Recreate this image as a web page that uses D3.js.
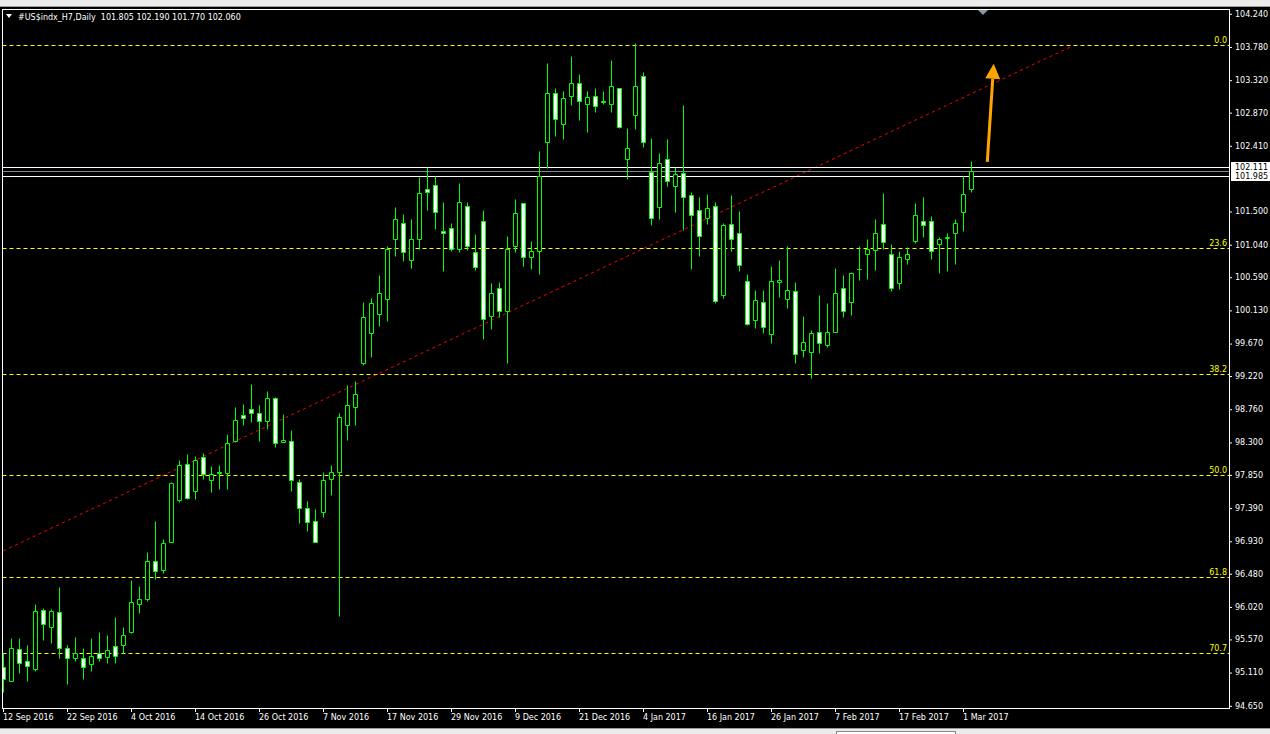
<!DOCTYPE html>
<html><head><meta charset="utf-8">
<script src="https://cdn.jsdelivr.net/npm/d3@7"></script>
<style>html,body{margin:0;padding:0;background:#000;overflow:hidden}</style>
</head><body>
<svg id="c" width="1270" height="734"></svg>
<script>
const symbolTitle = "#US$indx_H7,Daily  101.805 102.190 101.770 102.060";
const startDate = "2016-09-12";
const holidays = ["2016-12-26", "2017-01-02"];
const opens = [95.18,94.98,95.43,95.26,95.15,95.97,95.74,95.94,95.45,95.30,
95.30,95.22,95.37,95.32,95.47,95.48,95.66,96.05,96.12,96.65,
96.52,96.91,97.49,98.00,97.62,98.09,97.77,97.89,97.87,98.31,
98.67,98.75,98.70,98.59,98.91,98.30,98.31,97.75,97.39,97.20,
97.33,97.78,97.88,98.53,98.79,99.40,99.81,100.07,100.28,101.11,
101.33,100.82,101.11,101.81,101.86,101.22,101.26,100.98,101.57,100.93,
101.36,100.05,100.43,100.12,101.02,101.61,100.86,100.94,102.45,103.13,
102.70,103.09,103.27,102.98,103.10,103.03,102.98,103.20,102.22,102.83,
103.37,102.04,101.55,102.22,101.84,102.02,101.72,101.52,101.41,101.57,
100.33,101.32,101.20,100.53,99.99,100.24,99.79,100.52,100.28,100.39,
99.58,99.54,99.82,99.64,99.83,100.43,100.24,100.70,100.91,100.96,
101.32,100.90,100.50,100.84,101.09,101.36,101.36,101.04,101.13,101.20,
101.48,101.805];
const highs = [95.38,95.58,95.58,95.48,96.06,96.00,95.98,96.29,95.48,95.59,
95.44,95.58,95.66,95.62,95.88,95.73,96.39,96.31,96.78,97.21,
96.96,97.74,98.05,98.13,98.10,98.14,97.96,97.98,98.41,98.79,
98.83,99.10,98.81,99.00,98.92,98.69,98.47,97.79,97.48,97.37,
97.88,97.98,98.70,99.09,99.14,100.24,100.29,100.61,101.02,101.56,
101.46,101.39,101.97,102.11,101.99,101.63,101.33,101.89,101.62,101.18,
101.51,100.50,100.52,101.16,101.67,101.61,101.09,102.33,103.55,103.21,
103.16,103.65,103.40,103.16,103.21,103.16,103.59,103.21,102.65,103.83,
103.42,102.51,102.30,102.50,102.11,102.97,101.77,101.69,101.73,101.62,
101.33,101.72,101.50,100.63,100.41,100.41,100.74,100.82,101.02,100.52,
100.05,99.85,100.34,100.22,100.71,100.62,100.66,101.01,101.11,101.39,
101.75,101.04,100.94,101.00,101.61,101.70,101.43,101.14,101.19,101.39,
101.98,102.19];
const lows = [94.84,94.98,95.10,94.99,95.13,95.55,95.52,95.30,94.94,95.27,
95.01,95.13,95.27,95.24,95.24,95.38,95.65,95.93,96.10,96.40,
96.48,96.91,97.47,97.51,97.51,97.79,97.60,97.65,97.65,98.30,
98.54,98.58,98.31,98.48,98.23,98.30,97.62,97.17,97.07,96.91,
97.26,97.56,95.89,98.32,98.54,99.37,99.47,99.91,99.98,100.88,
100.81,100.71,100.97,101.51,101.25,100.67,100.94,100.93,100.96,100.68,
99.73,99.87,100.03,99.40,100.93,100.74,100.69,100.63,102.10,102.54,
102.50,102.97,102.76,102.59,102.87,102.98,102.87,102.65,101.95,102.63,
102.39,101.30,101.39,101.85,101.48,101.24,100.70,100.88,101.32,100.23,
100.30,100.95,100.67,99.92,99.88,99.81,99.67,100.31,100.15,99.40,
99.48,99.19,99.53,99.61,99.83,100.03,100.06,100.55,100.56,100.68,
100.97,100.39,100.42,100.76,101.06,101.14,100.84,100.64,100.67,100.77,
101.22,101.77];
const closes = [95.01,95.45,95.23,95.19,95.95,95.77,95.95,95.44,95.31,95.37,
95.18,95.33,95.30,95.41,95.34,95.62,96.08,96.12,96.65,96.51,
96.90,97.73,97.98,97.52,98.05,97.85,97.86,97.87,98.28,98.61,
98.63,98.70,98.59,98.91,98.28,98.32,97.77,97.39,97.19,96.92,
97.77,97.89,98.64,98.81,98.96,100.03,100.22,100.37,100.98,101.39,
100.93,101.11,101.75,101.76,101.48,101.20,100.98,101.63,101.01,100.72,
100.01,100.37,100.12,100.98,101.47,100.86,100.94,101.98,103.13,102.77,
103.06,103.27,103.03,103.08,102.95,103.01,103.23,102.67,102.37,103.23,
102.45,101.40,102.16,101.91,102.01,101.70,101.45,101.16,101.54,100.25,
101.30,101.11,100.75,99.93,100.26,99.89,100.53,100.54,100.41,99.52,
99.68,99.81,99.67,99.82,100.37,100.12,100.64,100.70,100.97,101.19,
101.07,100.44,100.86,100.91,101.44,101.30,100.94,101.11,101.14,101.33,
101.73,102.06];
const priceTicks = [104.240,103.780,103.320,102.870,102.410,101.500,101.040,100.590,100.130,99.670,
99.220,98.760,98.300,97.850,97.390,96.930,96.480,96.020,95.570,95.110,94.650];
const dateTickIdx = [0,8,16,24,32,40,48,56,64,72,80,88,96,104,112,120];
const fibHigh = 103.80, fibLow = 91.88;
const fibLevels = [0.0, 23.6, 38.2, 50.0, 61.8, 70.7];
const hLinePrices = [102.111, 101.985];
const bidPrice = 102.060;
const trendPts = [{i:0, p:96.79}, {i:133.7, p:103.79}];
const arrowPts = [{i:123.0, p:102.18}, {i:123.8, p:103.54}];

// trading-day categories
const dates = [];
{
  let d = new Date(startDate + "T12:00:00");
  const hol = new Set(holidays);
  while (dates.length < opens.length) {
    const wd = d.getDay();
    const key = d3.timeFormat("%Y-%m-%d")(d);
    if (wd !== 0 && wd !== 6 && !hol.has(key)) dates.push(new Date(d));
    d.setDate(d.getDate() + 1);
  }
}
const fmtDate = d3.timeFormat("%-d %b %Y");

const svg = d3.select("#c");
const FONT = "DejaVu Sans";
const L = 2.5, R = 1229.5, T = 9.5, B = 708.5;

const x = d3.scaleLinear().domain([0, 121]).range([3.3, 971.3]);
const y = d3.scaleLinear().domain([94.650, 104.240]).range([705.3, 13.3]);

svg.append("rect").attr("width",1270).attr("height",734).attr("fill","#000");
// top strip
svg.append("rect").attr("x",0).attr("y",0).attr("width",1270).attr("height",7).attr("fill","#ececec");
svg.append("line").attr("x1",0).attr("x2",1270).attr("y1",6.5).attr("y2",6.5).attr("stroke","#a0a0a0");
// bottom strip
svg.append("rect").attr("x",0).attr("y",728).attr("width",1270).attr("height",6).attr("fill","#ececec");
svg.append("line").attr("x1",0).attr("x2",1270).attr("y1",728.5).attr("y2",728.5).attr("stroke","#9a9a9a");
svg.append("rect").attr("x",836.5).attr("y",731.5).attr("width",119).attr("height",4).attr("fill","#fff").attr("stroke","#888");

svg.append("defs").append("clipPath").attr("id","clip")
  .append("rect").attr("x",L).attr("y",T).attr("width",R-L).attr("height",B-T);
const plot = svg.append("g").attr("clip-path","url(#clip)");

// fib levels
const fibG = plot.append("g");
fibLevels.forEach(lv => {
  const p = fibHigh - (fibHigh - fibLow) * lv / 100;
  const yy = Math.round(y(p)) + 0.5;
  fibG.append("line").attr("x1",L).attr("x2",R).attr("y1",yy).attr("y2",yy)
    .attr("stroke","#ffff00").attr("stroke-dasharray","4,3");
  svg.append("text").attr("x",1227).attr("y",yy-2.5).attr("text-anchor","end")
    .attr("fill","#ffff00").attr("font-family",FONT).attr("font-size",8).text(lv.toFixed(1));
});

// trend line
plot.append("path")
  .attr("d", d3.line().x(d => x(d.i)).y(d => y(d.p))(trendPts))
  .attr("stroke","#ff0000").attr("fill","none").attr("stroke-dasharray","3,3.5");

// horizontal lines
hLinePrices.forEach(p => {
  const yy = Math.round(y(p)) + 0.5;
  plot.append("line").attr("x1",L).attr("x2",R).attr("y1",yy).attr("y2",yy).attr("stroke","#ffffff");
});
{
  const yy = Math.round(y(bidPrice)) + 0.5;
  plot.append("line").attr("x1",L).attr("x2",R).attr("y1",yy).attr("y2",yy).attr("stroke","#778899");
}

// candles
const data = opens.map((o,i) => ({i, o, h: highs[i], l: lows[i], c: closes[i]}));
const cg = plot.append("g");
data.forEach(d => {
  const c = Math.floor(x(d.i));
  const yh = Math.round(y(d.h)) + 0.5, yl = Math.round(y(d.l)) + 0.5;
  const yo = Math.round(y(d.o)) + 0.5, yc = Math.round(y(d.c)) + 0.5;
  cg.append("line").attr("x1",c+0.5).attr("x2",c+0.5).attr("y1",yh).attr("y2",yl).attr("stroke","#00ff00");
  const top = Math.min(yo,yc), bot = Math.max(yo,yc);
  const bull = d.c >= d.o;
  cg.append("path")
    .attr("d", `M${c-1.5},${top}H${c+2.5}V${bot}H${c-1.5}Z`)
    .attr("fill", bull ? "#000" : "#fff").attr("stroke","#00ff00");
});

// orange arrow
{
  const x0 = x(arrowPts[0].i), y0 = y(arrowPts[0].p);
  const x1 = x(arrowPts[1].i), y1 = y(arrowPts[1].p);
  const ang = Math.atan2(y1-y0, x1-x0);
  const hl = 15, hw = 7.5;
  const bx = x1 - hl*Math.cos(ang), by = y1 - hl*Math.sin(ang);
  const px = -Math.sin(ang), py = Math.cos(ang);
  svg.append("line").attr("x1",x0).attr("y1",y0).attr("x2",bx).attr("y2",by)
    .attr("stroke","#ffa500").attr("stroke-width",3);
  svg.append("path").attr("d",`M${x1},${y1}L${bx+px*hw},${by+py*hw}L${bx-px*hw},${by-py*hw}Z`)
    .attr("fill","#ffa500");
}

// frame
svg.append("rect").attr("x",L).attr("y",T).attr("width",R-L).attr("height",B-T)
  .attr("fill","none").attr("stroke","#fff");

// chart shift marker
svg.append("path").attr("d","M978,10L988,10L983,15Z").attr("fill","#8c98a6");

// price axis
const yAxis = d3.axisRight(y).tickValues(priceTicks).tickSize(3).tickPadding(3)
  .tickFormat(d3.format(".3f"));
const ya = svg.append("g").attr("transform",`translate(${R-0.5},0)`).call(yAxis);
ya.select(".domain").remove();
ya.selectAll(".tick line").attr("stroke","#fff").attr("transform","translate(0,0.5)");
ya.selectAll(".tick text").attr("fill","#fff").attr("font-family",FONT).attr("font-size",8).attr("dy","0.36em");

// current-line labels
hLinePrices.forEach(p => {
  const yy = Math.round(y(p));
  svg.append("rect").attr("x",1231).attr("y",yy-5).attr("width",39).attr("height",10).attr("fill","#fff");
});
hLinePrices.forEach(p => {
  const yy = Math.round(y(p));
  svg.append("text").attr("x",1235).attr("y",yy+3).attr("fill","#000")
    .attr("font-family",FONT).attr("font-size",8).text(p.toFixed(3));
});

// time axis
const xAxis = d3.axisBottom(x).tickValues(dateTickIdx).tickSize(4).tickPadding(2)
  .tickFormat(i => fmtDate(dates[i]));
const xa = svg.append("g").attr("transform",`translate(0,${B-0.5})`).call(xAxis);
xa.select(".domain").remove();
xa.selectAll(".tick").attr("transform", function(i){ return `translate(${Math.floor(x(i))+0.5},0)`; });
xa.selectAll(".tick line").attr("stroke","#fff");
xa.selectAll(".tick text").attr("fill","#fff").attr("font-family",FONT).attr("font-size",8)
  .attr("text-anchor","start").attr("x",-0.5).attr("y",6).attr("dy","0.71em");

// title
svg.append("path").attr("d","M6,14L12,14L9,18Z").attr("fill","#fff");
svg.append("text").attr("x",18).attr("y",20).attr("fill","#fff").attr("font-family",FONT)
  .attr("font-size",8).attr("xml:space","preserve").style("white-space","pre").text(symbolTitle);
</script>
</body></html>
